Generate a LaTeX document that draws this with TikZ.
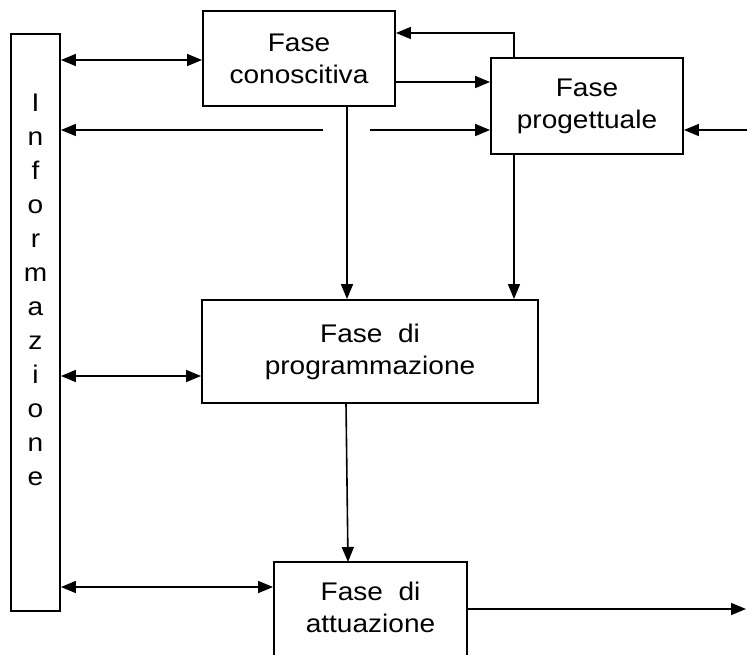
\documentclass[tikz,border=0pt]{standalone}
\usepackage{fontspec}
\newfontfamily\arial[FakeStretch=1.1]{Liberation Sans}
\usetikzlibrary{arrows.meta}
\tikzset{
  box/.style={draw, line width=1.9pt, inner sep=0pt, align=center,
    font=\arial\fontsize{25.5}{32}\selectfont},
  boxtext/.style={inner sep=0pt, align=center, font=\arial\fontsize{25.5}{32}\selectfont},
  conn/.style={line width=1.6pt, -{Triangle[length=15pt,width=12pt]}},
  dconn/.style={line width=1.6pt, {Triangle[length=15pt,width=12pt]}-{Triangle[length=15pt,width=12pt]}}
}
\begin{document}
\begin{tikzpicture}[x=1pt,y=-1pt]
\useasboundingbox (0,0) rectangle (747,654);
\clip (0,0) rectangle (747,654);
% boxes
\node[box, minimum width=49pt, minimum height=577pt] (info) at (35.5,322.5) {};
\node[anchor=north, inner sep=0pt, align=center, font=\arial\fontsize{25.5}{34}\selectfont] (infotext) at (35.5,94)
  {I\\n\\f\\o\\r\\m\\a\\z\\i\\o\\n\\e};
\node[box, minimum width=192pt, minimum height=95pt] (con) at (299,58.5) {Fase\\conoscitiva};
\node[box, minimum width=192pt, minimum height=96pt] (prog) at (587,106) {Fase\\progettuale};
\node[box, minimum width=336pt, minimum height=103pt] (pgm) at (370,351.5) {Fase~~di\\programmazione};
\node[box, minimum width=193pt, minimum height=104pt] (att) at (370.5,614) {};
\node[boxtext] (atttext) at (370.5,607) {Fase~~di\\attuazione};
% free-end coordinates
\coordinate (fb) at (514,33);
\coordinate (m1) at (323,130);
\coordinate (m2) at (370,130);
\coordinate (rin) at (747,130);
\coordinate (rout) at (746,609);
\coordinate (cdown) at (347,106);
\coordinate (pdown) at (514,154);
\coordinate (gdown) at (346,403);
\coordinate (atop) at (348,562);
% connectors
\draw[dconn] (info.east |- 0,60) -- (con.west |- 0,60);
\draw[conn] (con.east |- 0,82) -- (prog.west |- 0,82);
\draw[conn] (pdown |- prog.north) -- (fb) -- (con.east |- fb);
\draw[conn] (m1) -- (info.east |- m1);
\draw[conn] (m2) -- (prog.west |- m2);
\draw[conn] (rin) -- (prog.east |- rin);
\draw[conn] (cdown) -- (cdown |- pgm.north);
\draw[conn] (pdown) -- (pdown |- pgm.north);
\draw[dconn] (info.east |- 0,376) -- (pgm.west |- 0,376);
\draw[conn] (gdown) -- (atop);
\draw[dconn] (info.east |- 0,587) -- (att.west |- 0,587);
\draw[conn] (att.east |- rout) -- (rout);
\end{tikzpicture}
\end{document}
